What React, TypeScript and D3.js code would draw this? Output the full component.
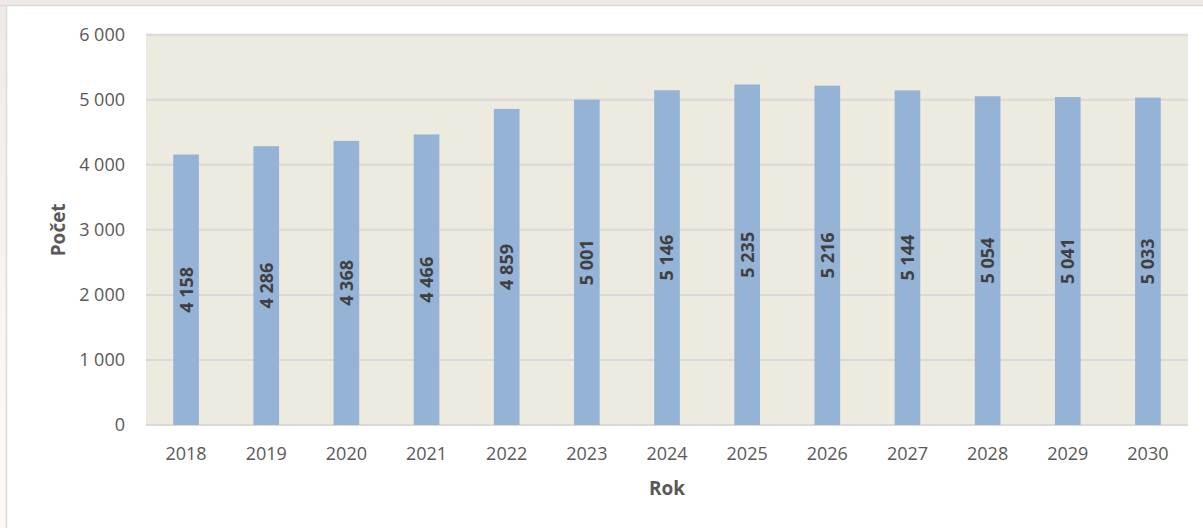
import React from "react";
import * as d3 from "d3";

const years = ["2018","2019","2020","2021","2022","2023","2024","2025","2026","2027","2028","2029","2030"];
const values = [4158,4286,4368,4466,4859,5001,5146,5235,5216,5144,5054,5041,5033];
const yTicks = [0,1000,2000,3000,4000,5000,6000];

const W = 1203, H = 528;
const plot = { left: 146, right: 1188, top: 34.7, bottom: 425 };

const fmt = (v: number) => {
  const s = String(v);
  return s.length > 3 ? s.slice(0, s.length - 3) + " " + s.slice(-3) : s;
};

export default function App() {
  const x = d3.scaleBand<string>().domain(years).range([plot.left, plot.right]).paddingInner(0.68).paddingOuter(0.34);
  const y = d3.scaleLinear().domain([0, 6000]).range([plot.bottom, plot.top]);
  const font = "'Open Sans', sans-serif";
  return (
    <svg width={W} height={H} style={{ position: "absolute", left: 0, top: 0, background: "#fff" }}>
      <defs>
        <linearGradient id="lg" x1="0" y1="0" x2="0" y2="1">
          <stop offset="0" stopColor="#f1e9e7" />
          <stop offset="0.8" stopColor="#fdf8f3" />
          <stop offset="1" stopColor="#fdf9f5" />
        </linearGradient>
      </defs>
      <rect x={0} y={0} width={W} height={H} fill="#fff" />
      <rect x={0} y={0} width={W} height={5} fill="#f0e8e6" />
      <rect x={0} y={0} width={6} height={H} fill="url(#lg)" />
      <line x1={0} x2={W} y1={5.5} y2={5.5} stroke="#dadada" strokeWidth={1.5} />
      <line x1={6.5} x2={6.5} y1={5} y2={H} stroke="#dadada" strokeWidth={1.5} />

      <rect x={plot.left} y={plot.top} width={plot.right - plot.left} height={plot.bottom - plot.top} fill="#edeae0" />
      {yTicks.map(t => (
        <line key={"g" + t} x1={plot.left} x2={plot.right} y1={y(t)} y2={y(t)} stroke="#d9d9d9" strokeWidth={2} />
      ))}
      {years.map((yr, i) => (
        <rect key={"b" + yr} x={x(yr)} y={y(values[i])} width={x.bandwidth()} height={y(0) - y(values[i])} fill="#95b3d7" />
      ))}
      {yTicks.map(t => (
        <text key={"t" + t} x={125} y={y(t)} dy="0.36em" textAnchor="end" fontFamily={font} fontSize={18} fill="#595959">{fmt(t)}</text>
      ))}
      {years.map(yr => (
        <text key={"x" + yr} x={(x(yr) as number) + x.bandwidth() / 2} y={460} textAnchor="middle" fontFamily={font} fontSize={18} fill="#595959">{yr}</text>
      ))}
      {years.map((yr, i) => {
        const cx = (x(yr) as number) + x.bandwidth() / 2;
        const cy = (y(values[i]) + y(0)) / 2;
        return (
          <text key={"l" + yr} transform={`translate(${cx},${cy}) rotate(-90)`} dy="0.36em" textAnchor="middle" fontFamily={font} fontWeight="bold" fontSize={18} fill="#404040">{fmt(values[i])}</text>
        );
      })}
      <text transform={`translate(65,${(plot.top + plot.bottom) / 2}) rotate(-90)`} textAnchor="middle" fontFamily={font} fontWeight="bold" fontSize={19} fill="#595959">Počet</text>
      <text x={(plot.left + plot.right) / 2} y={495} textAnchor="middle" fontFamily={font} fontWeight="bold" fontSize={19} fill="#595959">Rok</text>
    </svg>
  );
}
